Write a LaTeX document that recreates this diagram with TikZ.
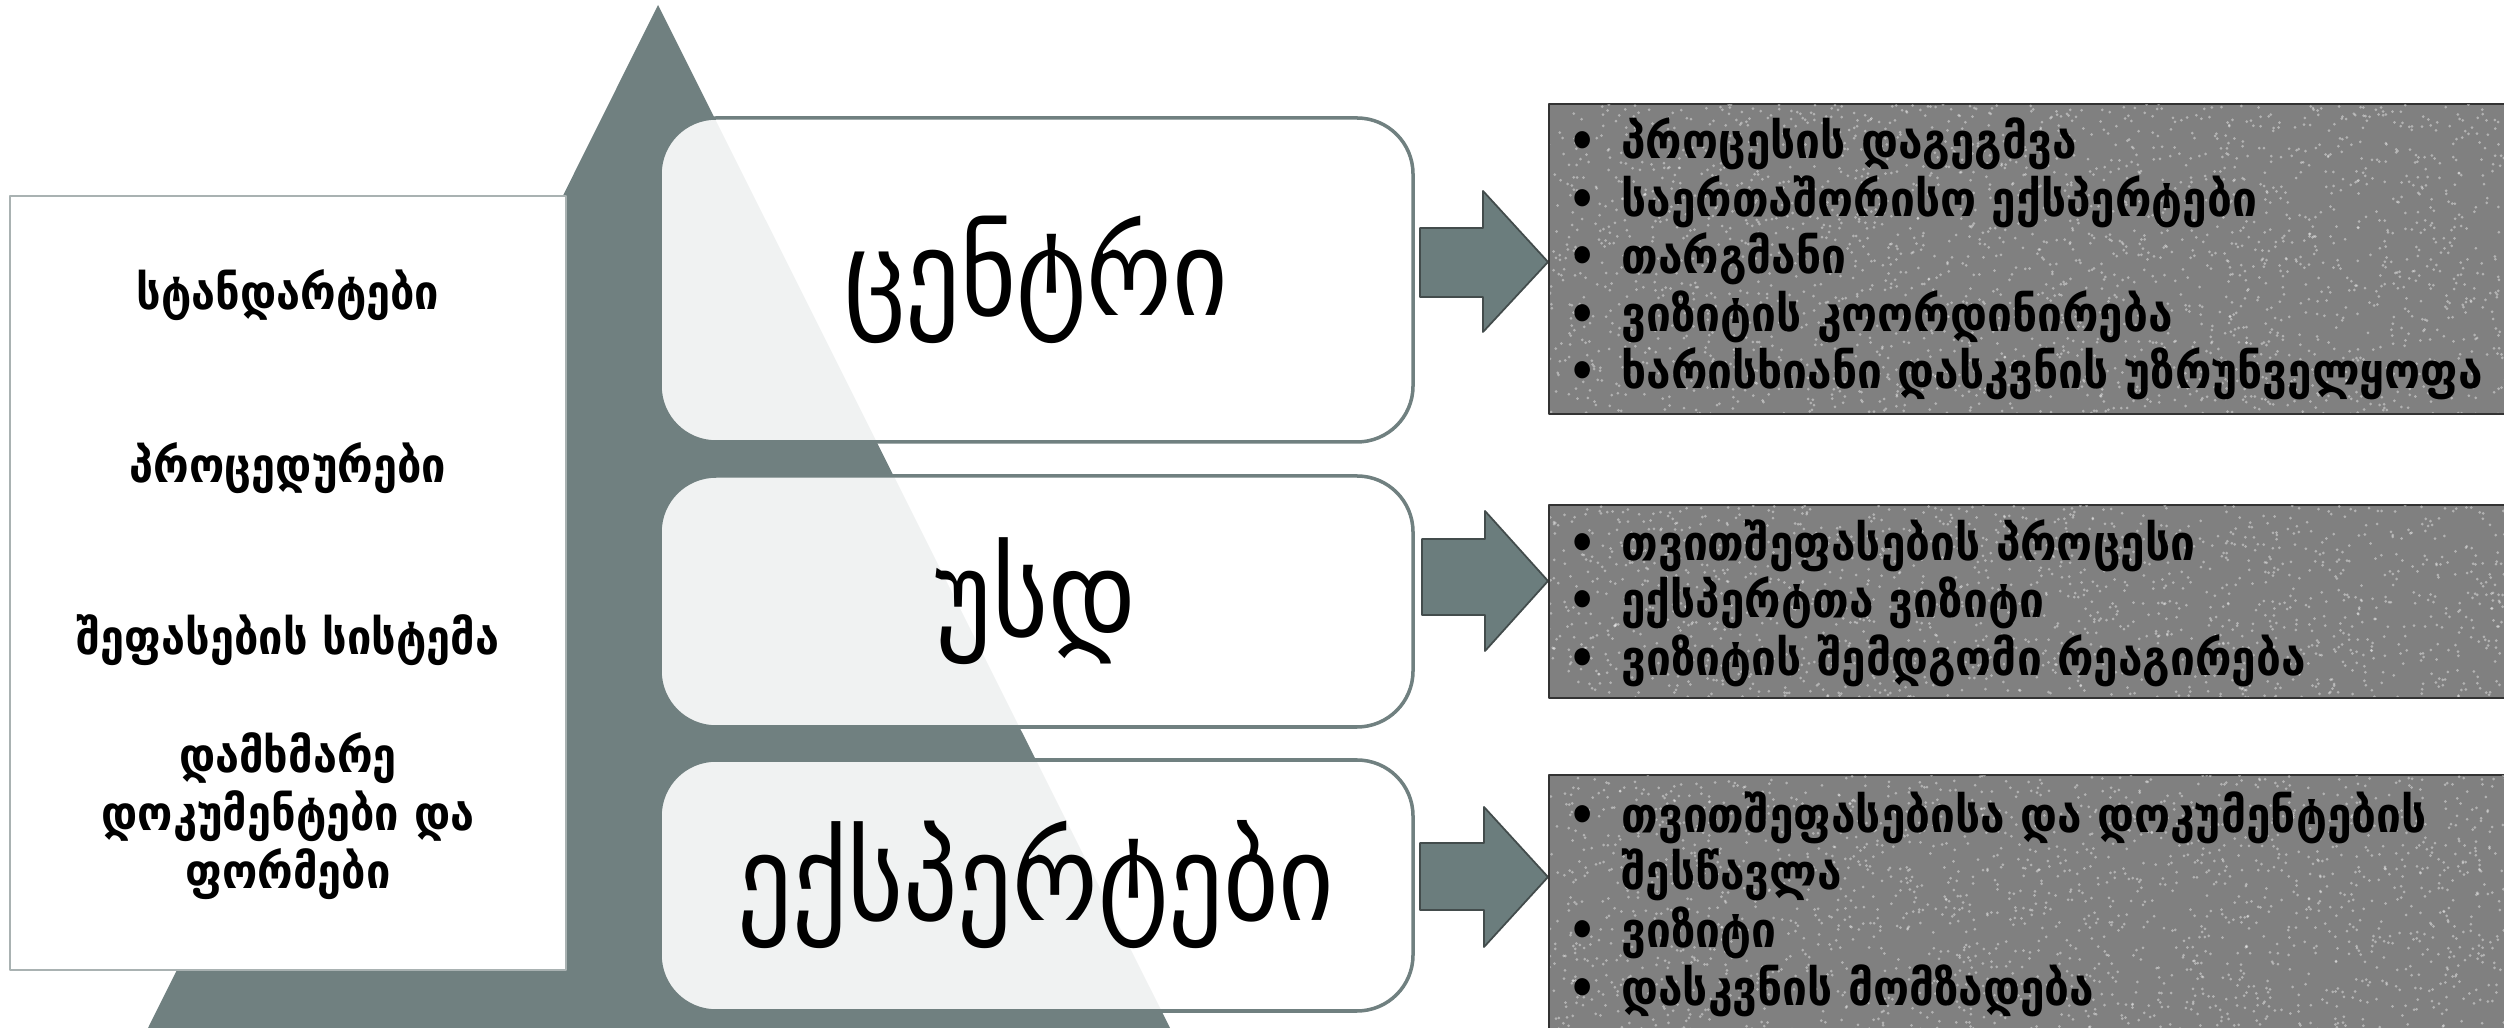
\documentclass[tikz,border=0pt]{standalone}
\usepackage{fontspec}
\setmainfont{DejaVu Sans Condensed}
\usepackage{tikz}
\definecolor{pyrgray}{rgb}{0.44,0.5,0.5}
\definecolor{arrgray}{rgb}{0.42,0.49,0.49}
\definecolor{boxgray}{rgb}{0.5,0.5,0.5}
\newcommand{\bul}{\makebox[15pt][l]{\textbullet}}
\tikzset{
  leftitem/.style={font=\fontsize{13.7}{16.5}\selectfont\bfseries,align=center},
  level/.style={color=pyrgray,fill=white,fill opacity=0.9,rounded corners=5.6mm,line width=1pt},
  biglabel/.style={font=\fontsize{34}{40}\selectfont},
  blockarrow/.style={fill=arrgray,draw=pyrgray!60!black,line width=0.5pt},
  textbox/.style={fill=boxgray,draw=black!80,line width=0.6pt},
  speck/.style={fill=white,opacity=0.4},
  boxlist/.style={anchor=west,inner sep=0pt,align=left,font=\fontsize{14}{16.4}\selectfont\bfseries}
}

\begin{document}
\begin{tikzpicture}[line cap=round,line join=round,x=0.1mm,y=-0.1mm]
\clip(0,0) rectangle (2504,1028);
\pgfmathsetseed{7}
% pyramid
\fill[color=pyrgray] (658,5) -- (1170,1028) -- (148,1028) -- cycle;
% left panel
\draw[color=pyrgray!60,fill=white,line width=0.8pt] (10,196) rectangle (566,970);
\node[leftitem] (standards) at (288,295) {სტანდარტები};
\node[leftitem] (procedures) at (288,468) {პროცედურები};
\node[leftitem] (grading) at (288,640) {შეფასების სისტემა};
\node[leftitem] (docs) at (288,816) {დამხმარე\\დოკუმენტები და\\ფორმები};
% levels
\draw[level] (660,118) rectangle (1413,442);
\draw[level] (660,476) rectangle (1413,727);
\draw[level] (660,760) rectangle (1413,1011);
\node[biglabel] (centre) at (1036,280) {ცენტრი};
\node[biglabel] (usd) at (1036,601) {უსდ};
\node[biglabel] (experts) at (1036,885) {ექსპერტები};
% arrows
\draw[blockarrow] (1420,228) -- (1483,228) -- (1483,191) -- (1548,262) -- (1483,332) -- (1483,297) -- (1420,297) -- cycle;
\draw[blockarrow] (1422,539) -- (1485,539) -- (1485,511) -- (1548,581) -- (1485,651) -- (1485,615) -- (1422,615) -- cycle;
\draw[blockarrow] (1420,843) -- (1484,843) -- (1484,807) -- (1548,877) -- (1484,947) -- (1484,910) -- (1420,910) -- cycle;
% text boxes, speckled
\foreach \ytop/\ybot/\n in {104/414/2400,505/698/1500,775/1040/2000}{
  \draw[textbox] (1549,\ytop) rectangle (2520,\ybot);
  \begin{scope}
    \clip (1550,\ytop+1) rectangle (2510,\ybot-1);
    \foreach \k in {1,...,\n}
      \fill[speck] ({1549+960*rnd},{\ytop+(\ybot-\ytop)*rnd}) circle (1.5);
  \end{scope}
}
\node[boxlist] (centrelist) at (1568,259) {\bul პროცესის დაგეგმვა\\\bul საერთაშორისო ექსპერტები\\\bul თარგმანი\\\bul ვიზიტის კოორდინირება\\\bul ხარისხიანი დასკვნის უზრუნველყოფა};
\node[boxlist] (usdlist) at (1568,603) {\bul თვითშეფასების პროცესი\\\bul ექსპერტთა ვიზიტი\\\bul ვიზიტის შემდგომი რეაგირება};
\node[boxlist] (expertlist) at (1568,904) {\bul თვითშეფასებისა და დოკუმენტების\\\hspace*{15pt}შესწავლა\\\bul ვიზიტი\\\bul დასკვნის მომზადება};
\end{tikzpicture}
\end{document}
